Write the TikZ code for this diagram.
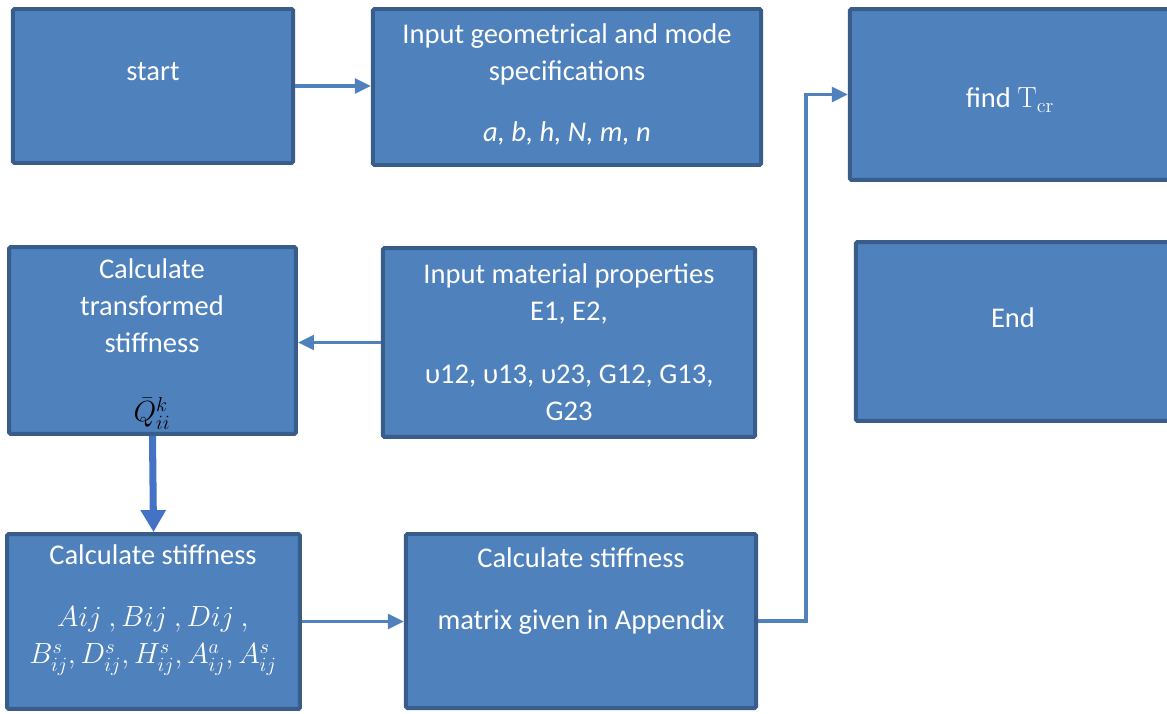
\documentclass[tikz,border=0pt]{standalone}
\usepackage{amsmath}
\usepackage[no-math]{fontspec}
\setmainfont{Carlito}
\usetikzlibrary{arrows.meta,positioning,calc}
\definecolor{boxfill}{HTML}{4F81BD}
\definecolor{boxline}{HTML}{385D8A}
\definecolor{linkcol}{HTML}{4F81BD}
\definecolor{bigcol}{HTML}{4472C4}
\tikzset{
  box/.style={rectangle, rounded corners=1pt, draw=boxline, fill=boxfill, line width=2.8pt},
  txt/.style={text=white, align=center, inner sep=0pt, font=\fontsize{20.3}{26.3}\selectfont},
  flow/.style={-{Triangle[length=4mm, width=3.6mm]}, line width=2.6pt, draw=linkcol},
  bigflow/.style={-{Triangle[length=5.5mm, width=6mm]}, line width=5pt, draw=bigcol},
}
\begin{document}
\begin{tikzpicture}[x=0.025cm, y=-0.025cm]
  \useasboundingbox (0,0) rectangle (1167,713);
  \clip (0,0) rectangle (1167,713);
  % boxes
  \node[box, minimum width=7cm, minimum height=3.85cm] (start) at (153,86) {};
  \node[box, minimum width=9.7cm, minimum height=3.9cm] (geo) at (567,87) {};
  \node[box, minimum width=8cm, minimum height=4.27cm] (tcr) at (1010,94.5) {};
  \node[box, minimum width=7.85cm, minimum height=4.47cm] (fin) at (1013,331.5) {};
  \node[box, minimum width=7.17cm, minimum height=4.67cm] (trans) at (152.5,340.5) {};
  \node[box, minimum width=9.3cm, minimum height=4.72cm] (mat) at (569,342.5) {};
  \node[box, minimum width=7.32cm, minimum height=4.37cm] (stiff) at (153.5,621.5) {};
  \node[box, minimum width=8.75cm, minimum height=4.35cm] (mtx) at (581,621) {};
  % texts
  \node[txt] (start-t) at (153,72) {start};
  \node[txt] (geo-t) at (567,84) {Input geometrical and mode\\specifications\\[0.6cm]\textit{a, b, h, N, m, n}};
  \node[txt] (tcr-t) at (1010,100) {find $\mathrm{T}_{\mathrm{cr}}$};
  \node[txt] (fin-t) at (1013,318) {End};
  \node[txt] (trans-t) at (152,344) {Calculate\\transformed\\stiffness\\[0.8cm]\textcolor{black}{$\bar{Q}_{ii}^{k}$}};
  \node[txt] (mat-t) at (569,342) {Input material properties\\E1, E2,\\[0.65cm]υ12, υ13, υ23, G12, G13,\\G23};
  \node[txt] (stiff-t) at (153,610) {Calculate stiffness\\[0.62cm]$Aij\ , Bij\ , Dij\ ,$\\$B_{ij}^{s}, D_{ij}^{s}, H_{ij}^{s}, A_{ij}^{a}, A_{ij}^{s}$};
  \node[txt] (mtx-t) at (581,591) {Calculate stiffness\\[0.62cm]matrix given in Appendix};
  % connectors
  \coordinate (riser) at (806,0);
  \draw[flow] (start.east) -- (start.east -| geo.west);
  \draw[flow] (mat.west) -- (mat.west -| trans.east);
  \draw[bigflow] (trans.south) -- (stiff.north);
  \draw[flow] (stiff.east) -- (stiff.east -| mtx.west);
  \draw[flow] (mtx.east) -| (riser |- tcr.west) -- (tcr.west);
\end{tikzpicture}
\end{document}
